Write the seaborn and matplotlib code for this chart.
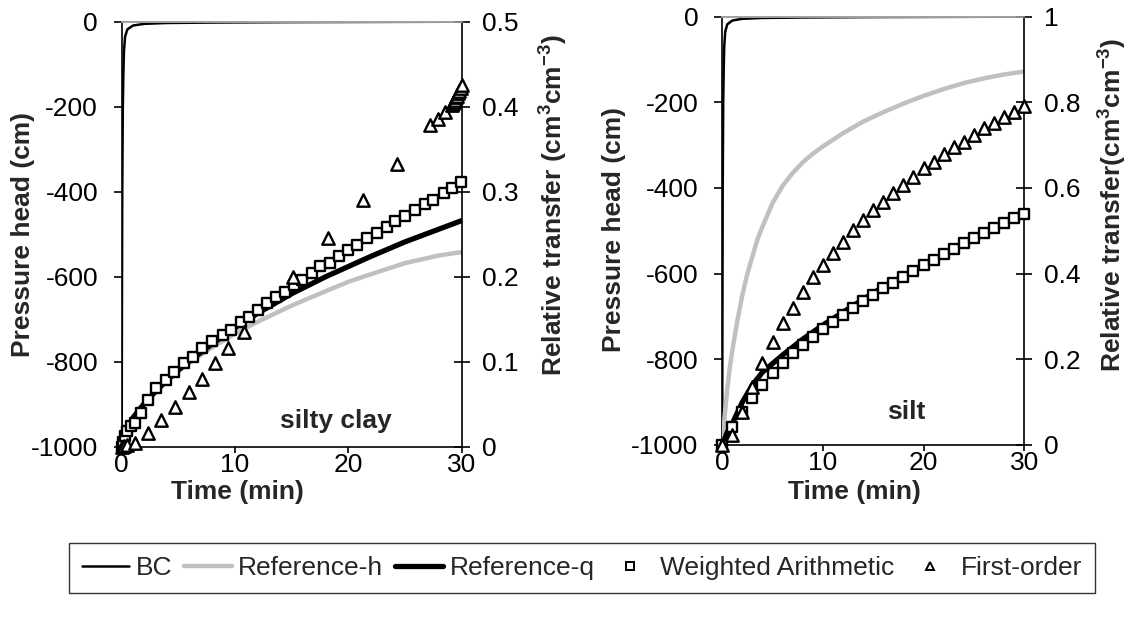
import matplotlib
matplotlib.use("Agg")
import matplotlib.pyplot as plt
import seaborn as sns
from matplotlib.lines import Line2D

# ---------------- data ----------------
time_ticks = [0, 10, 20, 30]
head_ticks = [-1000, -800, -600, -400, -200, 0]
rel_ticks_a = [0, 0.1, 0.2, 0.3, 0.4, 0.5]
rel_labels_a = ["0", "0.1", "0.2", "0.3", "0.4", "0.5"]
rel_ticks_b = [0, 0.2, 0.4, 0.6, 0.8, 1.0]
rel_labels_b = ["0", "0.2", "0.4", "0.6", "0.8", "1"]

# boundary condition (pressure head, cm)
bc_t = [0, 0.02, 0.05, 0.1, 0.15, 0.2, 0.3, 0.5, 1, 2, 4, 8, 15, 30]
bc_h = [-1000, -700, -400, -200, -120, -70, -35, -18, -9, -5, -3, -2, -1, 0]

# ---- silty clay ----
sc_ref_t = [0, 0.25, 0.5, 1, 2, 3, 4, 5, 6, 8, 10, 12, 15, 18, 20, 22, 25, 28, 30]
sc_refh_v = [0, 0.014, 0.023, 0.035, 0.052, 0.066, 0.078, 0.089, 0.099, 0.117, 0.133,
             0.147, 0.166, 0.183, 0.194, 0.203, 0.216, 0.225, 0.229]
sc_refq_v = [0, 0.013, 0.022, 0.034, 0.051, 0.065, 0.078, 0.090, 0.101, 0.121, 0.140,
             0.157, 0.180, 0.200, 0.212, 0.224, 0.241, 0.256, 0.266]
sc_wa_t = [0, 0.1, 0.25, 0.5, 0.8, 1.2, 1.7, 2.3, 3.0, 3.9, 4.6, 5.5, 6.3, 7.1, 8.0, 8.9,
           9.6, 10.5, 11.2, 12.0, 12.8, 13.6, 14.4, 15.2, 15.9, 16.8, 17.5, 18.4, 19.2,
           20.0, 20.8, 21.6, 22.5, 23.4, 24.1, 25.0, 25.9, 26.8, 27.5, 28.4, 29.1, 29.9]
sc_wa_v = [0, 0.006, 0.012, 0.018, 0.024, 0.028, 0.040, 0.055, 0.069, 0.078, 0.088, 0.098,
           0.106, 0.116, 0.124, 0.131, 0.137, 0.147, 0.153, 0.161, 0.169, 0.176, 0.182,
           0.190, 0.196, 0.204, 0.212, 0.216, 0.224, 0.231, 0.237, 0.245, 0.251, 0.259,
           0.265, 0.271, 0.278, 0.286, 0.290, 0.298, 0.304, 0.311]
sc_fo_t = [0, 0.2, 0.5, 1.2, 2.35, 3.5, 4.7, 5.9, 7.1, 8.2, 9.4, 10.8, 15.1, 18.2, 21.3,
           24.3, 27.2, 27.9, 28.5, 29.1, 29.2, 29.3, 29.4, 29.5, 29.6, 29.7, 29.8, 29.9, 30.0]
sc_fo_v = [0, 0.001, 0.002, 0.004, 0.016, 0.031, 0.047, 0.064, 0.080, 0.098, 0.116, 0.135,
           0.200, 0.245, 0.290, 0.333, 0.378, 0.386, 0.394, 0.402, 0.404, 0.406, 0.408,
           0.411, 0.413, 0.416, 0.419, 0.422, 0.425]

# ---- silt ----
si_refh_t = [0, 0.25, 0.5, 0.75, 1, 1.5, 2, 2.5, 3, 3.5, 4, 5, 6, 7, 8, 9, 10, 12, 14, 16,
             18, 20, 22, 24, 26, 28, 30]
si_refh_v = [0, 0.07, 0.13, 0.18, 0.22, 0.29, 0.35, 0.40, 0.44, 0.48, 0.51, 0.565, 0.605,
             0.635, 0.66, 0.68, 0.697, 0.728, 0.755, 0.777, 0.797, 0.815, 0.831, 0.845,
             0.856, 0.865, 0.872]
si_refq_t = [0, 0.5, 1, 2, 3, 4, 5, 6, 8, 10, 12, 15, 18, 20, 22, 25, 28, 30]
si_refq_v = [0, 0.03, 0.05, 0.10, 0.14, 0.17, 0.19, 0.21, 0.247, 0.28, 0.31, 0.355, 0.395,
             0.42, 0.445, 0.48, 0.515, 0.542]
si_pts_t = [0, 1, 2, 3, 4, 5, 6, 7, 8, 9, 10, 11, 12, 13, 14, 15, 16, 17, 18, 19, 20, 21,
            22, 23, 24, 25, 26, 27, 28, 29, 30]
si_wa_v = [0, 0.043, 0.078, 0.109, 0.140, 0.167, 0.191, 0.214, 0.233, 0.253, 0.270, 0.288,
           0.304, 0.319, 0.335, 0.350, 0.366, 0.379, 0.393, 0.407, 0.420, 0.432, 0.446,
           0.457, 0.471, 0.483, 0.494, 0.506, 0.518, 0.529, 0.539]
si_fo_v = [0, 0.023, 0.078, 0.136, 0.191, 0.241, 0.284, 0.319, 0.358, 0.392, 0.420, 0.448,
           0.475, 0.502, 0.525, 0.549, 0.568, 0.588, 0.607, 0.626, 0.646, 0.661, 0.679,
           0.695, 0.708, 0.724, 0.739, 0.752, 0.766, 0.778, 0.791]

series_names = ["BC", "Reference-h", "Reference-q", "Weighted Arithmetic", "First-order"]

# ---------------- style ----------------
sns.set_theme(style="white")
plt.rcParams["font.family"] = ["Liberation Sans", "DejaVu Sans"]
plt.rcParams["axes.unicode_minus"] = False
plt.rcParams["mathtext.fontset"] = "custom"
plt.rcParams["mathtext.rm"] = "Liberation Sans:bold"
plt.rcParams["mathtext.it"] = "Liberation Sans:bold"
plt.rcParams["mathtext.bf"] = "Liberation Sans:bold"

FS = 19
GREY = "#c0c0c0"

fig = plt.figure(figsize=(11.32, 6.31), dpi=100)
fig.patch.set_facecolor("white")


def panel(rect, bc_tt, bc_hh, h_t, h_v, q_t, q_v, wa_t, wa_v, fo_t, fo_v,
          rticks, rlabels, rmax, name, name_xy, rlab, xl_xy, yl_xy, rl_xy):
    ax = fig.add_axes(rect)
    axr = ax.twinx()
    sns.lineplot(x=bc_tt, y=bc_hh, ax=ax, color="black", linewidth=1.8, sort=False)
    sns.lineplot(x=h_t, y=h_v, ax=axr, color=GREY, linewidth=3.2)
    sns.lineplot(x=q_t, y=q_v, ax=axr, color="black", linewidth=3.8)
    sns.scatterplot(x=wa_t, y=wa_v, ax=axr, marker="s", s=58, facecolor="white",
                    edgecolor="black", linewidth=1.7, clip_on=False, zorder=4)
    sns.scatterplot(x=fo_t, y=fo_v, ax=axr, marker="^", s=80, facecolor="white",
                    edgecolor="black", linewidth=1.7, clip_on=False, zorder=5)

    ax.set_xlim(0, 30)
    ax.set_ylim(-1000, 0)
    axr.set_ylim(0, rmax)
    ax.set_xticks(time_ticks)
    ax.set_xticklabels([str(v) for v in time_ticks])
    ax.set_yticks(head_ticks)
    ax.set_yticklabels([str(v) for v in head_ticks])
    axr.set_yticks(rticks)
    axr.set_yticklabels(rlabels)

    for a in (ax, axr):
        a.set_facecolor("none")
        for s in a.spines.values():
            s.set_linewidth(1.2)
            s.set_color("black")
        a.spines["top"].set_color("#a0a0a0")
    axr.spines["left"].set_visible(False)
    axr.spines["bottom"].set_visible(False)
    ax.spines["right"].set_visible(False)

    ax.tick_params(axis="y", direction="out", length=6, width=1.2, pad=11,
                   labelsize=FS, colors="black", left=True)
    ax.tick_params(axis="x", direction="out", length=4, width=1.2, pad=0.5,
                   labelsize=FS, colors="black", bottom=True)
    axr.tick_params(axis="y", direction="inout", length=12, width=1.2, pad=8.5,
                    labelsize=FS, colors="black", right=True)

    ax.set_xlabel("Time (min)", fontsize=FS, fontweight="bold")
    ax.xaxis.set_label_coords(*xl_xy)
    ax.xaxis.label.set_va("center")
    ax.set_ylabel("Pressure head (cm)", fontsize=FS, fontweight="bold")
    ax.yaxis.set_label_coords(*yl_xy)
    ax.yaxis.label.set_va("center")
    axr.set_ylabel(rlab, fontsize=FS, fontweight="bold", rotation=90)
    axr.yaxis.set_label_coords(*rl_xy)
    axr.yaxis.label.set_va("center")

    ax.text(name_xy[0], name_xy[1], name, transform=ax.transAxes, fontsize=FS,
            fontweight="bold", ha="center", va="center")
    return ax, axr


panel([0.1075, 0.2921, 0.3004, 0.6735], bc_t, bc_h, sc_ref_t, sc_refh_v, sc_ref_t,
      sc_refq_v, sc_wa_t, sc_wa_v, sc_fo_t, sc_fo_v, rel_ticks_a, rel_labels_a, 0.5,
      "silty clay", (0.63, 0.06), r"Relative transfer (cm$^{3}$cm$^{-3}$)",
      (0.339, -0.107), (-0.29, 0.5), (1.271, 0.569))
panel([0.638, 0.2948, 0.2668, 0.6788], bc_t, bc_h, si_refh_t, si_refh_v, si_refq_t,
      si_refq_v, si_pts_t, si_wa_v, si_pts_t, si_fo_v, rel_ticks_b, rel_labels_b, 1.0,
      "silt", (0.608, 0.077), r"Relative transfer(cm$^{3}$cm$^{-3}$)",
      (0.439, -0.110), (-0.359, 0.502), (1.294, 0.560))

handles = [
    Line2D([], [], color="black", linewidth=1.8),
    Line2D([], [], color=GREY, linewidth=3.2),
    Line2D([], [], color="black", linewidth=3.8),
    Line2D([], [], linestyle="none", marker="s", markersize=6, markerfacecolor="white",
           markeredgecolor="black", markeredgewidth=1.4),
    Line2D([], [], linestyle="none", marker="^", markersize=6, markerfacecolor="white",
           markeredgecolor="black", markeredgewidth=1.4),
]
leg = fig.legend(handles, series_names, loc="center", bbox_to_anchor=(0.514, 0.0998),
                 ncol=5, frameon=True, fancybox=False, fontsize=FS, handlelength=1.8,
                 handletextpad=0.25, columnspacing=0.45, borderpad=0.5)
leg.get_frame().set_edgecolor("black")
leg.get_frame().set_linewidth(1.0)

fig.savefig("out.png", dpi=100, facecolor="white")
